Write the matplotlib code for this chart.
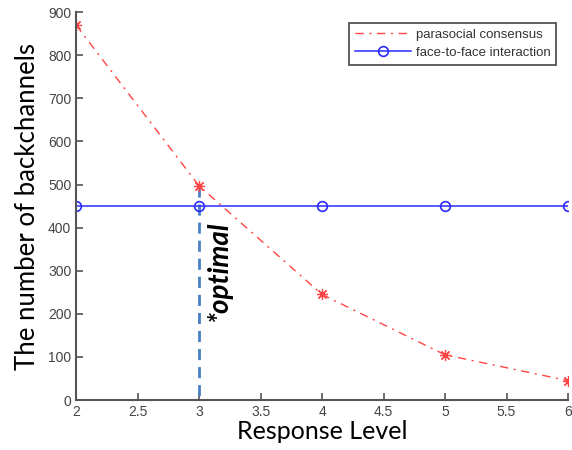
import matplotlib.pyplot as plt

# Data
levels = [2, 3, 4, 5, 6]
parasocial = [870, 497, 245, 105, 45]
face_to_face = [450, 450, 450, 450, 450]
optimal_level = 3
optimal_value = 497

xticks = [2, 2.5, 3, 3.5, 4, 4.5, 5, 5.5, 6]
xticklabels = ['2', '2.5', '3', '3.5', '4', '4.5', '5', '5.5', '6']
yticks = [0, 100, 200, 300, 400, 500, 600, 700, 800, 900]

plt.rcParams['font.family'] = ['Liberation Sans', 'DejaVu Sans']

fig = plt.figure(figsize=(5.72, 4.5), dpi=100)
ax = fig.add_axes([0.133, 0.111, 0.860, 0.862])

# optimal marker line (drawn first so it sits under the series)
ax.plot([optimal_level, optimal_level], [optimal_value, 0], linestyle='--',
        color='#4a7fc4', linewidth=2, dashes=(4, 2.5))
ax.text(optimal_level + 0.055, 300, '*optimal', rotation=90, ha='left',
        va='center', fontsize=20, fontweight='bold', style='italic',
        family='Lato')

ax.plot(levels, parasocial, linestyle='-.', color='#ff4545', marker=(8, 2, 0),
        markersize=8, markeredgewidth=0.9, linewidth=1.0,
        dashes=(6, 4, 1.5, 4), label='parasocial consensus')
ax.plot(levels, face_to_face, linestyle='-', color='#2a2aff', marker='o',
        markersize=7, markerfacecolor='none', markeredgewidth=1.2,
        linewidth=1.1, label='face-to-face interaction')

ax.set_xlim(2, 6)
ax.set_ylim(0, 900)
ax.set_xticks(xticks)
ax.set_xticklabels(xticklabels)
ax.set_yticks(yticks)

ax.spines['top'].set_visible(False)
ax.spines['right'].set_visible(False)
for s in ['left', 'bottom']:
    ax.spines[s].set_color('#555555')
    ax.spines[s].set_linewidth(1.5)
ax.tick_params(direction='in', length=5, width=1.2, color='#555555',
               labelcolor='#444444', labelsize=10)

ax.set_xlabel('Response Level', fontsize=18, family='Lato', labelpad=1)
ax.set_ylabel('The number of backchannels', fontsize=18.5, family='Lato',
              labelpad=6)

leg = ax.legend(loc='upper right', fontsize=9.5, fancybox=False,
                framealpha=1, borderpad=0.45, handlelength=4.2,
                labelspacing=0.45, handletextpad=0.4,
                bbox_to_anchor=(0.99, 0.99))
leg.get_frame().set_edgecolor('#444444')
leg.get_frame().set_linewidth(1.2)
leg.legend_handles[0].set_marker('')
for t in leg.get_texts():
    t.set_color('#333333')

fig.savefig('out.png', dpi=100)
